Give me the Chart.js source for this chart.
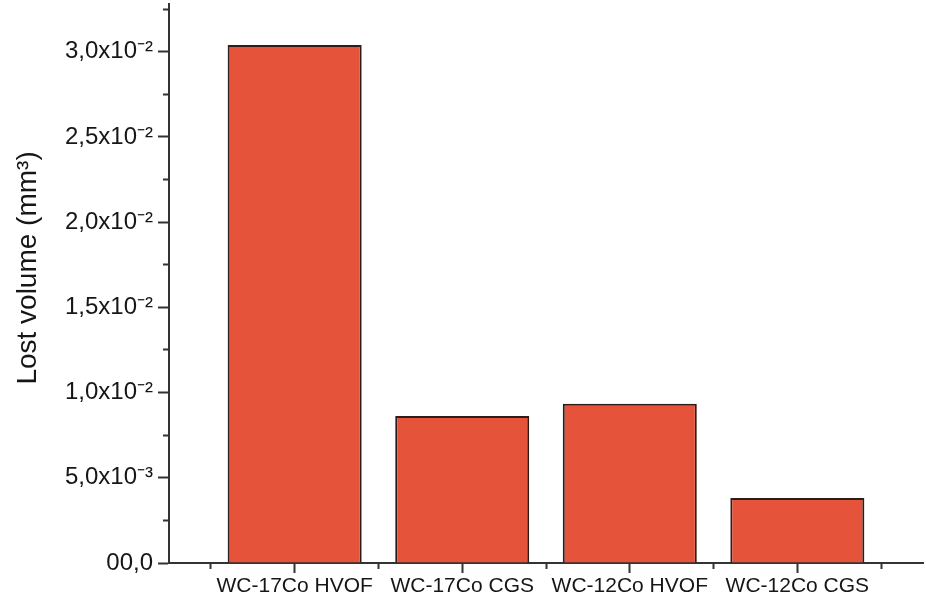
<!DOCTYPE html>
<html>
<head>
<meta charset="utf-8">
<script src="https://cdn.jsdelivr.net/npm/chart.js@4/dist/chart.umd.min.js"></script>
<style>
  html, body { margin: 0; padding: 0; background: #ffffff; }
  #wrap { width: 926px; height: 604px; }
</style>
</head>
<body>
<div id="wrap"><canvas id="chart" width="926" height="604"></canvas></div>
<script>
// Coatings compared in the wear test
const categories = ['WC-17Co HVOF', 'WC-17Co CGS', 'WC-12Co HVOF', 'WC-12Co CGS'];
// Lost volume per coating, mm³
const lostVolume = [0.0304, 0.00863, 0.00934, 0.00382];
// Labelled (major) y ticks and their texts
const yTickValues = [0, 0.005, 0.01, 0.015, 0.02, 0.025, 0.03];
const yTickLabels = ['00,0', '5,0x10⁻³', '1,0x10⁻²', '1,5x10⁻²', '2,0x10⁻²', '2,5x10⁻²', '3,0x10⁻²'];

const FONT = "'Liberation Sans', Arial, Helvetica, sans-serif";
const INK = '#161616';
const AXIS = '#333333';

const isMajorY = v => yTickValues.some(t => Math.abs(t - v) < 1e-9);

new Chart(document.getElementById('chart'), {
  type: 'bar',
  data: {
    datasets: [{
      data: categories.map((c, i) => ({ x: i, y: lostVolume[i] })),
      backgroundColor: '#E4533A',
      borderColor: '#2e1c18',
      borderWidth: 2,
      // the bar ruler also sees the half-step boundary ticks, so the
      // nearest-neighbour spacing is half a category: 1.6 of that = 0.8 category
      barPercentage: 1.6,
      categoryPercentage: 1.0
    }]
  },
  options: {
    responsive: false,
    animation: false,
    layout: { padding: { top: 4, right: 3, bottom: 0, left: 0 } },
    plugins: { legend: { display: false }, tooltip: { enabled: false } },
    scales: {
      x: {
        type: 'linear',
        position: 'bottom',
        offset: false,
        min: -0.75,
        max: categories.length - 0.25,
        afterBuildTicks: s => {
          const t = [];
          categories.forEach((c, i) => { t.push({ value: i - 0.5 }); t.push({ value: i }); });
          t.push({ value: categories.length - 0.5 });
          s.ticks = t;
        },
        afterFit: s => { s.height = 41; s.paddingLeft = 0; s.paddingRight = 0; },
        ticks: {
          autoSkip: false,
          maxRotation: 0,
          minRotation: 0,
          padding: 1,
          color: INK,
          font: { family: FONT, size: 21 },
          callback: v => Number.isInteger(v) ? categories[v] : ''
        },
        grid: {
          offset: false,
          drawOnChartArea: false,
          drawTicks: true,
          tickLength: 10,
          tickWidth: 2,
          tickColor: AXIS,
          tickBorderDash: ctx => (ctx.tick && Number.isInteger(ctx.tick.value)) ? [] : [5, 20]
        },
        border: { display: true, color: AXIS, width: 2 }
      },
      y: {
        type: 'linear',
        min: 0,
        max: 0.0328,
        afterFit: s => { s.width = 169; s.paddingTop = 0; s.paddingBottom = 0; },
        ticks: {
          stepSize: 0.0025,
          includeBounds: false,
          autoSkip: false,
          padding: 5,
          color: INK,
          font: { family: FONT, size: 24 },
          callback: v => {
            const idx = yTickValues.findIndex(t => Math.abs(t - v) < 1e-9);
            return idx >= 0 ? yTickLabels[idx] : '';
          }
        },
        grid: {
          drawOnChartArea: false,
          drawTicks: true,
          tickLength: 11,
          tickWidth: 2,
          tickColor: AXIS,
          tickBorderDash: ctx => (ctx.tick && isMajorY(ctx.tick.value)) ? [] : [6, 5],
          tickBorderDashOffset: ctx => (ctx.tick && isMajorY(ctx.tick.value)) ? 0 : 6
        },
        border: { display: true, color: AXIS, width: 2 },
        title: {
          display: true,
          text: '    Lost volume (mm³)',
          color: INK,
          font: { family: FONT, size: 28 },
          padding: { top: 11, bottom: 0 }
        }
      }
    }
  }
});
</script>
</body>
</html>
